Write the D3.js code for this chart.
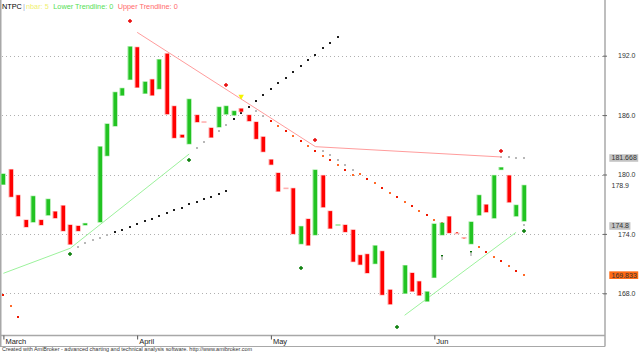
<!DOCTYPE html>
<html>
<head>
<meta charset="utf-8">
<script src="https://cdn.jsdelivr.net/npm/d3@7"></script>
<style>
  body { margin: 0; background: #fff; }
  svg { display: block; font-family: "Liberation Sans", Arial, sans-serif; }
</style>
</head>
<body>
<svg id="chart" width="640" height="352"></svg>
<script>
////////////////////////////////////////////////////////////////////////
// NTPC daily bodies, March - June (AmiBroker style, no wicks)
// null = bar with no visible body

let opens = [179.0, 180.5, 177.9, 175.4, 175.2, 175.4, 175.9, 176.25, 176.85, 174.9,
  174.8, 174.9, null, 175.2, 181.9, 184.9, 188.0, 189.6, 192.85, 188.2,
  189.6, 188.65, 192.2, 186.9, 184.0, 183.1, 186.0, 185.32, 184.7, 184.8,
  186.1, 186.0, 186.65, 186.0, 185.3, 183.8, 181.5, 180.15, 178.62, 178.6,
  173.0, 175.5, 173.9, 179.9, 176.3, 174.88, 174.9, 174.4, 171.85, 171.95,
  171.0, 172.25, 168.35, null, 168.0, 170.05, 169.2, 167.2, 169.6, 173.9,
  175.75, 174.07, 173.62, 173.0, 175.9, 176.95, 175.6, 180.5, 179.9, 175.8,
  175.3];
let closes = [180.05, 177.75, 175.8, 174.7, 177.8, 174.9, 177.5, 175.6, 174.3, 172.95,
  174.3, 175.05, null, 182.8, 185.1, 188.3, 188.7, 192.9, 188.8, 189.35,
  188.0, 191.6, 186.1, 183.7, 183.75, 187.6, 185.3, 185.28, 183.75, 186.8,
  186.9, 186.4, 186.35, 185.4, 183.6, 182.3, 181.0, 178.3, 178.58, 174.0,
  174.75, 172.85, 180.45, 176.7, 174.55, 174.92, 174.2, 171.2, 170.9, 170.05,
  172.8, 167.85, 166.9, null, 170.8, 168.2, 167.8, 168.15, 175.0, 175.1,
  174.1, 174.03, 173.58, 175.2, 177.9, 176.2, 179.9, 180.7, 177.2, 176.9,
  178.9];

let monthNames = ["March", "April", "May", "Jun"];
let monthStart = [0, 18, 36, 58];
let yTicks = [168, 174, 180, 186, 192];

// dotted projection series: first bar index + one value per bar
let dotsAStart = 10;
let dotsA = [172.71, 173.05, 173.35, 173.62, 173.86, 174.19, 174.42, 174.73, 175.03, 175.27,
  175.54, 175.84, 176.14, 176.38, 176.65, 176.99, 177.22, 177.49, 177.76, 178.06, 178.36];
let dotsBStart = 26;
let dotsB = [182.65, 183.25, 183.84, 184.39, 185.0, 185.61, 186.21, 186.82, 187.39, 188.0,
  188.61, 189.21, 189.78, 190.38, 190.96, 191.54, 192.12, 192.73, 193.32, 193.92];
let dotsC1Start = 34;
let dotsC1 = [186.44, 185.94, 185.4, 184.9, 184.39, 183.89, 183.41, 182.91, 182.4, 181.9,
  181.43, 180.93, 180.42, 179.92];
let dotsC2Start = 43;
let dotsC2 = [182.4, 181.94, 181.46, 180.96, 180.48, 180.05, 179.55, 179.11, 178.64, 178.16,
  177.7, 177.22, 176.79, 176.31, 175.88, 175.43, 175.07, 174.55, 174.09, 173.59,
  173.13, 172.65, 172.17, 171.7, 171.23, 170.76, 170.28, 169.833];
let dotsDStart = 67;
let dotsD = [181.76, 181.73, 181.7, 181.668];
let dotsEStart = 0;
let dotsE = [167.86, 166.75, 165.64];

// trendlines (bar index, price)
let upperTrendBars = [18, 42, 67];
let upperTrend = [194.36, 182.81, 181.77];
let lowerTrend1Bars = [0, 9, 25];
let lowerTrend1 = [170.02, 172.55, 182.07];
let lowerTrend2Bars = [54, 69];
let lowerTrend2 = [165.78, 174.16];

// pivots and signals
let pivotHighBars = [17, 30, 42, 67];
let pivotHighs = [195.47, 189.04, 183.45, 182.34];
let pivotLowBars = [9, 25, 40, 53, 70];
let pivotLows = [171.97, 181.46, 170.56, 164.6, 174.26];
let markBars = [59, 63, 70];
let markPrices = [171.8, 172.2, 174.85];
let triangleBar = 32;
let trianglePrice = 187.8;

// last values shown on the price axis
let lastValues = [181.668, 178.9, 174.8, 169.833];
let lastLabels = ["181.668", "178.9", "174.8", "169.833"];

////////////////////////////////////////////////////////////////////////

let svg = d3.select("#chart");
let plotRight = 605;
let plotBottom = 335.5;

let x = d3.scaleLinear().domain([0, 70]).range([3.4, 523.5]);
let y = d3.scaleLinear().domain([168, 192]).range([293.3, 55.7]);

// dotted grid
svg.append("g")
  .selectAll("line")
  .data(yTicks)
  .enter()
  .append("line")
  .attr("x1", 2).attr("x2", plotRight - 2)
  .attr("y1", function(d) { return Math.round(y(d)) + 0.5; })
  .attr("y2", function(d) { return Math.round(y(d)) + 0.5; })
  .attr("stroke", "#b0b0b0")
  .attr("stroke-dasharray", "1,3");

// frame
let frame = svg.append("g").attr("stroke", "#a8a8a8");
frame.append("line").attr("x1", 0.75).attr("x2", 0.75).attr("y1", 0).attr("y2", 346.5).attr("stroke-width", 1.5);
frame.append("line").attr("x1", plotRight).attr("x2", plotRight).attr("y1", 0).attr("y2", 346.5).attr("stroke-width", 1.5);
frame.append("line").attr("x1", 0).attr("x2", plotRight).attr("y1", plotBottom).attr("y2", plotBottom).attr("stroke-width", 1.5);
frame.append("line").attr("x1", 0).attr("x2", plotRight).attr("y1", 346.5).attr("y2", 346.5);

// dotted series
let dotLayer = svg.append("g");
function drawDots(start, values, grayLead, color, alternate) {
  values.forEach(function(v, k) {
    let fill = color;
    if (k < grayLead) fill = "#b8b8b8";
    else if (alternate) fill = (k % 2) ? "#ff6a2a" : "#f01800";
    dotLayer.append("rect")
      .attr("x", Math.round(x(start + k)) - 1)
      .attr("y", Math.round(y(v)) - 1)
      .attr("width", 2).attr("height", 2)
      .attr("fill", fill);
  });
}
drawDots(dotsAStart, dotsA, 5, "#1e1e1e", false);
drawDots(dotsBStart, dotsB, 5, "#1e1e1e", false);
drawDots(dotsC1Start, dotsC1, 2, null, true);
drawDots(dotsC2Start, dotsC2, 5, null, true);
drawDots(dotsDStart, dotsD, 4, null, false);
drawDots(dotsEStart, dotsE, 0, null, true);

// trendlines
let line = d3.line()
  .x(function(d) { return x(d[0]); })
  .y(function(d) { return y(d[1]); });

svg.append("path")
  .attr("d", line(d3.zip(upperTrendBars, upperTrend)))
  .attr("fill", "none").attr("stroke", "#ff9c9c");
svg.append("path")
  .attr("d", line(d3.zip(lowerTrend1Bars, lowerTrend1)))
  .attr("fill", "none").attr("stroke", "#9cf29c");
svg.append("path")
  .attr("d", line(d3.zip(lowerTrend2Bars, lowerTrend2)))
  .attr("fill", "none").attr("stroke", "#9cf29c");

// candle bodies
let bars = d3.range(opens.length).filter(function(i) { return opens[i] !== null; });
let candles = svg.append("g")
  .selectAll("g")
  .data(bars)
  .enter()
  .append("g");

candles.append("rect")
  .attr("x", function(i) { return Math.round(x(i)) - 2.5; })
  .attr("y", function(i) { return y(Math.max(opens[i], closes[i])) - 0.6; })
  .attr("width", 5)
  .attr("height", function(i) { return Math.abs(y(opens[i]) - y(closes[i])) + 1.2; })
  .attr("fill", function(i) { return closes[i] >= opens[i] ? "#9be89b" : "#ffb0b0"; });

candles.filter(function(i) { return Math.abs(y(opens[i]) - y(closes[i])) > 0.8; })
  .append("rect")
  .attr("x", function(i) { return Math.round(x(i)) - 1.5; })
  .attr("y", function(i) { return y(Math.max(opens[i], closes[i])); })
  .attr("width", 3.6)
  .attr("height", function(i) { return Math.abs(y(opens[i]) - y(closes[i])); })
  .attr("fill", function(i) { return closes[i] >= opens[i] ? "#22c322" : "#ff0000"; });

// pivot crosses
function cross(bx, price, color) {
  svg.append("path")
    .attr("transform", "translate(" + Math.round(x(bx)) + "," + Math.round(y(price)) + ")")
    .attr("d", "M-2,0H2M0,-2V2")
    .attr("stroke", color).attr("stroke-width", 1.4);
}
pivotHighBars.forEach(function(b, k) { cross(b, pivotHighs[k], "#e80000"); });
pivotLowBars.forEach(function(b, k) { cross(b, pivotLows[k], "#007a00"); });

// small signal marks
markBars.forEach(function(b, k) {
  let px = Math.round(x(b)) - 1;
  let py = Math.round(y(markPrices[k]));
  if (b < 70) {
    svg.append("rect").attr("x", px).attr("y", py - 1).attr("width", 2).attr("height", 1.5).attr("fill", "#0a6a0a");
    svg.append("rect").attr("x", px).attr("y", py + 1).attr("width", 2).attr("height", 3).attr("fill", "#c8c8c8");
  } else {
    svg.append("rect").attr("x", px).attr("y", py - 1).attr("width", 2).attr("height", 2).attr("fill", "#bdbdbd");
  }
});

// yellow triangle
svg.append("path")
  .attr("transform", "translate(" + x(triangleBar) + "," + y(trianglePrice) + ")")
  .attr("d", "M-2.7,-2.5L2.7,-2.5L0,2.5Z")
  .attr("fill", "#f4f400");

// price axis
let yAxis = d3.axisRight(y)
  .tickValues(yTicks)
  .tickFormat(d3.format(".1f"))
  .tickSize(2)
  .tickPadding(11);

let yg = svg.append("g")
  .attr("transform", "translate(" + plotRight + ",0)")
  .call(yAxis);
yg.select(".domain").remove();
yg.selectAll(".tick line").attr("x1", -2).attr("stroke", "#666");
yg.selectAll(".tick text")
  .attr("font-size", 7)
  .attr("font-family", "Liberation Sans, Arial, sans-serif")
  .attr("fill", "#333");

// last value labels
let boxFill = ["#c4c4c4", null, "#c4c4c4", "#ff6a13"];
let lg = svg.append("g");
lastValues.forEach(function(v, k) {
  let cy = y(v);
  let t = lg.append("text")
    .attr("x", 611.5).attr("y", cy + 2.5)
    .attr("font-size", 7).attr("fill", "#333")
    .text(lastLabels[k]);
  if (boxFill[k]) {
    let w = t.node().getComputedTextLength();
    lg.insert("rect", "text")
      .attr("x", 609.3).attr("y", cy - 3.8)
      .attr("width", w + 3.6).attr("height", 7.6)
      .attr("fill", boxFill[k]);
  }
});

// month axis
let xAxis = d3.axisBottom(x)
  .tickValues(monthStart)
  .tickFormat(function(d, i) { return monthNames[i]; })
  .tickSize(4);

let xg = svg.append("g")
  .attr("transform", "translate(0," + plotBottom + ")")
  .call(xAxis);
xg.select(".domain").remove();
xg.selectAll(".tick line").attr("stroke", "#555");
xg.selectAll(".tick text")
  .attr("text-anchor", "start")
  .attr("x", 1.5).attr("y", 8).attr("dy", 0)
  .attr("font-size", 7.5)
  .attr("font-family", "Liberation Sans, Arial, sans-serif")
  .attr("fill", "#222");

// title / legend
let legend = svg.append("text").attr("y", 8.5).attr("font-size", 7.3);
legend.append("tspan").attr("x", 2).attr("fill", "#000").text("NTPC");
legend.append("tspan").attr("x", 23).attr("fill", "#9aa4c8").text("|");
legend.append("tspan").attr("x", 26).attr("fill", "#f0f070").text("nbar: 5");
legend.append("tspan").attr("x", 53.3).attr("fill", "#55e055").text("Lower Trendline: 0");
legend.append("tspan").attr("x", 117.7).attr("fill", "#ff6b6b").text("Upper Trendline: 0");

// credit line
svg.append("text")
  .attr("x", 2).attr("y", 351.3)
  .attr("font-size", 5.6).attr("fill", "#333")
  .attr("textLength", 250).attr("lengthAdjust", "spacingAndGlyphs")
  .text("Created with AmiBroker - advanced charting and technical analysis software. http://www.amibroker.com");
</script>
</body>
</html>
